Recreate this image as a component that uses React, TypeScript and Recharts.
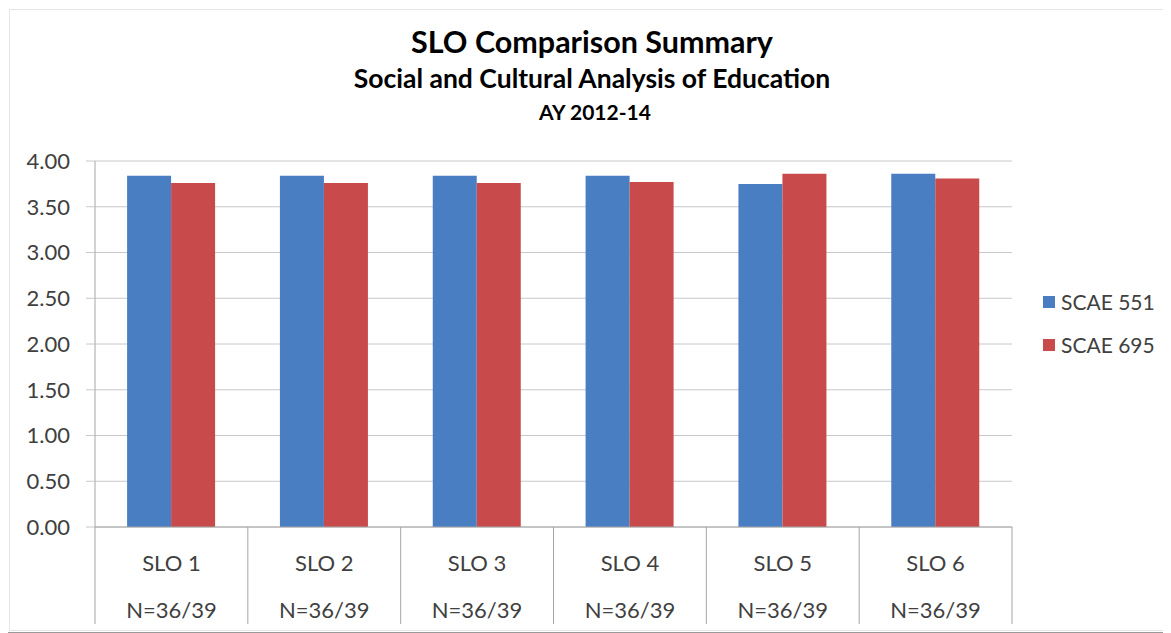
import React from 'react';
import { BarChart, Bar, XAxis, YAxis, CartesianGrid, Legend } from 'recharts';

const categories = ['SLO 1', 'SLO 2', 'SLO 3', 'SLO 4', 'SLO 5', 'SLO 6'];
const nLabels = ['N=36/39', 'N=36/39', 'N=36/39', 'N=36/39', 'N=36/39', 'N=36/39'];
const scae551 = [3.84, 3.84, 3.84, 3.84, 3.75, 3.86];
const scae695 = [3.76, 3.76, 3.76, 3.77, 3.86, 3.81];
const seriesNames = ['SCAE 551', 'SCAE 695'];
const seriesColors = ['#4A7EC3', '#C84A4B'];
const yTicks = [0, 0.5, 1, 1.5, 2, 2.5, 3, 3.5, 4];
const titleLines = ['SLO Comparison Summary', 'Social and Cultural Analysis of Education', 'AY 2012-14'];

const data = categories.map((c, i) => ({ name: c, n: nLabels[i], s551: scae551[i], s695: scae695[i] }));

const FONT = 'Lato, "Open Sans", sans-serif';
const W = 1163;
const H = 625;

const CatTick = (props: any) => {
  const { x, y, payload, index } = props;
  const half = payload && payload.offset ? payload.offset : 76.4;
  const i = payload && typeof payload.index === 'number' ? payload.index : index;
  return (
    <g>
      <line x1={x - half} y1={y} x2={x - half} y2={y + 97} stroke="#A6A6A6" strokeWidth={1} />
      {i === categories.length - 1 && (
        <line x1={x + half} y1={y} x2={x + half} y2={y + 97} stroke="#A6A6A6" strokeWidth={1} />
      )}
      <text x={x} y={y + 44} textAnchor="middle" fontFamily={FONT} fontSize={22} fill="#404040">
        {payload.value}
      </text>
      <text x={x} y={y + 91} textAnchor="middle" fontFamily={FONT} fontSize={22} fill="#404040">
        {nLabels[i]}
      </text>
    </g>
  );
};

const LegendContent = (props: any) => {
  const payload = props.payload || [];
  return (
    <div style={{ fontFamily: FONT }}>
      {payload.map((p: any, i: number) => (
        <div key={i} style={{ display: 'flex', alignItems: 'center', height: 24, marginBottom: 19 }}>
          <div style={{ width: 12, height: 12, background: p.color, marginRight: 6 }} />
          <span style={{ fontSize: 21, color: '#404040', lineHeight: '24px' }}>{p.value}</span>
        </div>
      ))}
    </div>
  );
};

export default function App() {
  return (
    <div style={{ position: 'relative', width: W, height: H }}>
      <BarChart
        width={W}
        height={H}
        data={data}
        margin={{ top: 153, right: 159, bottom: 6, left: 0 }}
        barCategoryGap="21%"
        barGap={0}
      >
        <CartesianGrid horizontal vertical={false} stroke="#C8C8C8" />
        <XAxis
          dataKey="name"
          height={100}
          tick={<CatTick />}
          tickLine={false}
          tickSize={0}
          tickMargin={0}
          axisLine={{ stroke: '#A6A6A6' }}
          interval={0}
        />
        <YAxis
          width={87}
          domain={[0, 4]}
          ticks={yTicks}
          tickFormatter={(v: number) => v.toFixed(2)}
          tickSize={9}
          tickMargin={16}
          tickLine={{ stroke: '#C8C8C8' }}
          axisLine={{ stroke: '#A6A6A6' }}
          tick={{ fontFamily: FONT, fontSize: 22, fill: '#404040' }}
        />
        <Legend
          layout="vertical"
          align="center"
          verticalAlign="middle"
          wrapperStyle={{ left: 1035, top: 282, width: 128 }}
          content={<LegendContent />}
        />
        <Bar dataKey="s551" name={seriesNames[0]} fill={seriesColors[0]} isAnimationActive={false} />
        <Bar dataKey="s695" name={seriesNames[1]} fill={seriesColors[1]} isAnimationActive={false} />
      </BarChart>
      <svg
        width={W + 1}
        height={H + 1}
        style={{ position: 'absolute', left: -1, top: -1, pointerEvents: 'none', zIndex: 10, overflow: 'visible' }}
      >
        <rect x={0.5} y={0.5} width={W + 4} height={H} fill="none" stroke="#999999" strokeWidth={1} />
        <rect x={2.5} y={2.5} width={W + 4} height={H - 4} fill="none" stroke="#E6E6E6" strokeWidth={1} />
        <text x={585} y={46} textAnchor="middle" fontFamily={FONT} fontWeight="bold" fontSize={30.5} fill="#000">
          {titleLines[0]}
        </text>
        <text x={585} y={81} textAnchor="middle" fontFamily={FONT} fontWeight="bold" fontSize={26.5} fill="#000">
          {titleLines[1]}
        </text>
        <text x={588} y={113} textAnchor="middle" fontFamily={FONT} fontWeight="bold" fontSize={21} fill="#000">
          {titleLines[2]}
        </text>
      </svg>
    </div>
  );
}
